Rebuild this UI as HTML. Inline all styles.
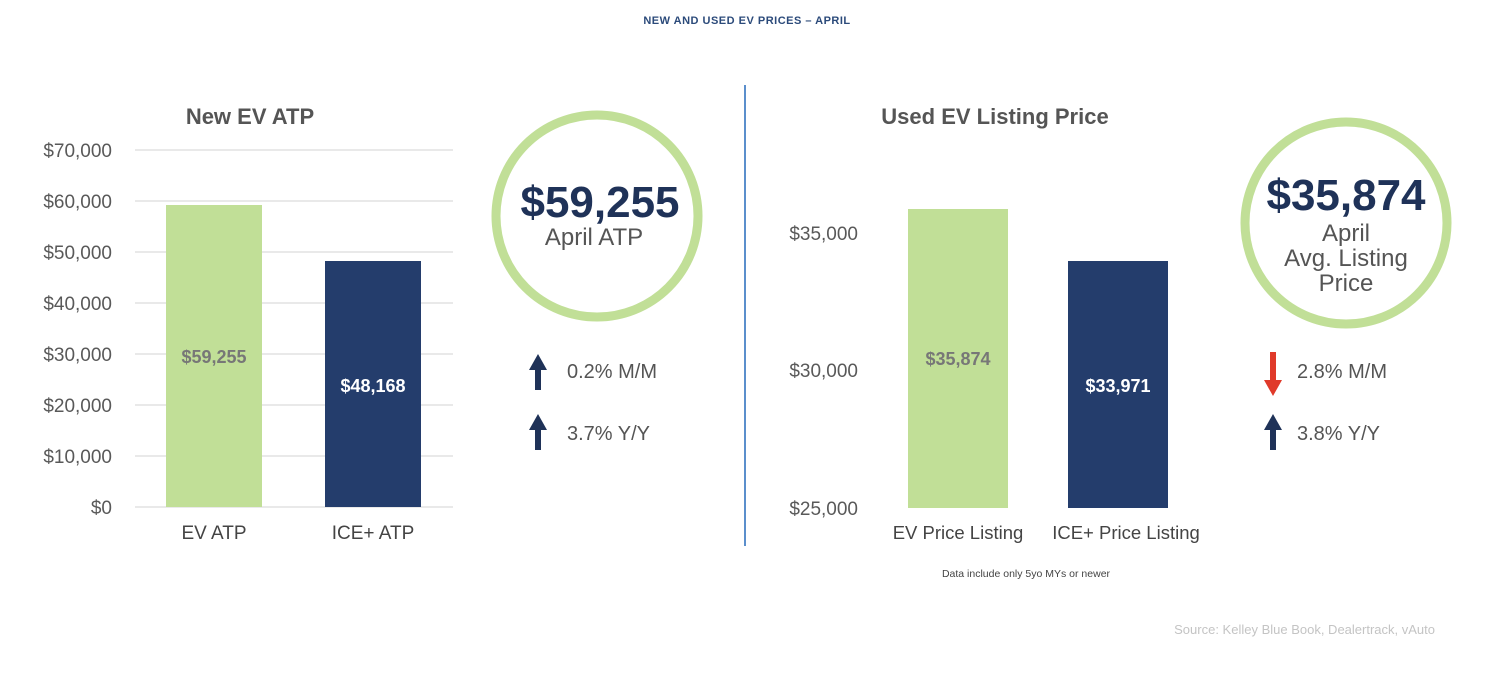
<!DOCTYPE html>
<html><head><style>
body{margin:0;width:1500px;height:675px;background:#fff;overflow:hidden;font-family:"Liberation Sans",Arial,sans-serif}
</style></head><body>
<svg width="1500" height="675" xmlns="http://www.w3.org/2000/svg" font-family="Liberation Sans, Arial, sans-serif">
<text x="747" y="24" text-anchor="middle" font-size="11" font-weight="bold" fill="#2b4a7a" letter-spacing="0.5">NEW AND USED EV PRICES – APRIL</text>
<!-- Left chart -->
<text x="250" y="124" text-anchor="middle" font-size="22" font-weight="bold" fill="#555">New EV ATP</text>
<g stroke="#e2e2e2" stroke-width="1.5">
<line x1="135" x2="453" y1="150" y2="150"/><line x1="135" x2="453" y1="201" y2="201"/>
<line x1="135" x2="453" y1="252" y2="252"/><line x1="135" x2="453" y1="303" y2="303"/>
<line x1="135" x2="453" y1="354" y2="354"/><line x1="135" x2="453" y1="405" y2="405"/>
<line x1="135" x2="453" y1="456" y2="456"/><line x1="135" x2="453" y1="507" y2="507"/>
</g>
<g font-size="19" fill="#595959" text-anchor="end">
<text x="112" y="157">$70,000</text><text x="112" y="208">$60,000</text><text x="112" y="259">$50,000</text>
<text x="112" y="310">$40,000</text><text x="112" y="361">$30,000</text><text x="112" y="412">$20,000</text>
<text x="112" y="463">$10,000</text><text x="112" y="514">$0</text>
</g>
<rect x="166" y="205" width="96" height="302" fill="#c1df97"/>
<rect x="325" y="261" width="96" height="246" fill="#243d6c"/>
<text x="214" y="363" text-anchor="middle" font-size="18" font-weight="bold" fill="#777">$59,255</text>
<text x="373" y="392" text-anchor="middle" font-size="18" font-weight="bold" fill="#fff">$48,168</text>
<text x="214" y="539" text-anchor="middle" font-size="19" fill="#444">EV ATP</text>
<text x="373" y="539" text-anchor="middle" font-size="19" fill="#444">ICE+ ATP</text>
<circle cx="597" cy="216" r="101" fill="none" stroke="#c1df97" stroke-width="9"/>
<text x="600" y="217" text-anchor="middle" font-size="44" font-weight="bold" fill="#1f3258">$59,255</text>
<text x="594" y="245" text-anchor="middle" font-size="24" fill="#555">April ATP</text>
<g fill="#1f3258">
<polygon points="538,354 529,370 535,370 535,390 541,390 541,370 547,370"/>
<polygon points="538,414 529,430 535,430 535,450 541,450 541,430 547,430"/>
</g>
<text x="567" y="378" font-size="20" fill="#555">0.2% M/M</text>
<text x="567" y="440" font-size="20" fill="#555">3.7% Y/Y</text>
<line x1="745" y1="85" x2="745" y2="546" stroke="#5b8fcc" stroke-width="2"/>
<!-- Right chart -->
<text x="995" y="124" text-anchor="middle" font-size="22" font-weight="bold" fill="#555">Used EV Listing Price</text>
<g font-size="19" fill="#595959" text-anchor="end">
<text x="858" y="240">$35,000</text><text x="858" y="377">$30,000</text><text x="858" y="515">$25,000</text>
</g>
<rect x="908" y="209" width="100" height="299" fill="#c1df97"/>
<rect x="1068" y="261" width="100" height="247" fill="#243d6c"/>
<text x="958" y="365" text-anchor="middle" font-size="18" font-weight="bold" fill="#777">$35,874</text>
<text x="1118" y="392" text-anchor="middle" font-size="18" font-weight="bold" fill="#fff">$33,971</text>
<text x="958" y="539" text-anchor="middle" font-size="18.5" fill="#444">EV Price Listing</text>
<text x="1126" y="539" text-anchor="middle" font-size="18.5" fill="#444">ICE+ Price Listing</text>
<text x="1026" y="577" text-anchor="middle" font-size="10.5" fill="#444">Data include only 5yo MYs or newer</text>
<circle cx="1346" cy="223" r="101" fill="none" stroke="#c1df97" stroke-width="9"/>
<text x="1346" y="210" text-anchor="middle" font-size="44" font-weight="bold" fill="#1f3258">$35,874</text>
<text x="1346" y="241" text-anchor="middle" font-size="24" fill="#555">April</text>
<text x="1346" y="266" text-anchor="middle" font-size="24" fill="#555">Avg. Listing</text>
<text x="1346" y="291" text-anchor="middle" font-size="24" fill="#555">Price</text>
<polygon points="1273,396 1264,380 1270,380 1270,352 1276,352 1276,380 1282,380" fill="#e03a2a"/>
<polygon points="1273,414 1264,430 1270,430 1270,450 1276,450 1276,430 1282,430" fill="#1f3258"/>
<text x="1297" y="378" font-size="20" fill="#555">2.8% M/M</text>
<text x="1297" y="440" font-size="20" fill="#555">3.8% Y/Y</text>
<text x="1435" y="634" text-anchor="end" font-size="13" fill="#c4c4c4">Source: Kelley Blue Book, Dealertrack, vAuto</text>
</svg>
</body></html>
